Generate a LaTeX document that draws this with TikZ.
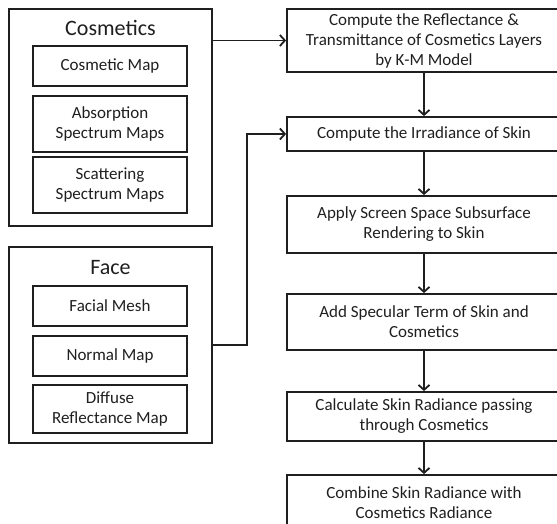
\documentclass[tikz,border=0pt]{standalone}
\usepackage{fontspec}
\setmainfont{Carlito}
\usetikzlibrary{arrows.meta, positioning, calc}

\begin{document}
\begin{tikzpicture}[x=1pt, y=1pt, line width=1.8pt, color=black!88,
    every node/.style={font=\fontsize{17}{20}\selectfont, inner sep=2pt},
    group/.style={draw, minimum width=203pt},
    title/.style={font=\fontsize{22}{24}\selectfont},
    mapbox/.style={draw, minimum width=154pt, align=center},
    stepbox/.style={draw, minimum width=274pt, align=center},
    arr/.style={-{Straight Barb[length=5pt, width=11pt]}}]

    \path[use as bounding box, clip] (0,0) rectangle (557,-523);

    % Cosmetics input group
    \node[group, minimum height=217pt] (cosm) at (110.5,-117.5) {};
    \node[title] (cosmtitle) at (110.5,-28) {Cosmetics};
    \node[mapbox, minimum height=40pt] (cosmap) at (110,-66) {Cosmetic Map};
    \node[mapbox, minimum height=56pt] (absmap) at (110,-124) {Absorption\\Spectrum Maps};
    \node[mapbox, minimum height=56pt] (scatmap) at (110,-185) {Scattering\\Spectrum Maps};

    % Face input group
    \node[group, minimum height=196pt] (face) at (110.5,-345) {};
    \node[title] (facetitle) at (110.5,-268) {Face};
    \node[mapbox, minimum height=40pt] (mesh) at (110,-306) {Facial Mesh};
    \node[mapbox, minimum height=40pt] (normal) at (110,-356) {Normal Map};
    \node[mapbox, minimum height=48pt] (diffuse) at (110,-409) {Diffuse\\Reflectance Map};

    % Rendering steps
    \node[stepbox, minimum height=63pt] (kmodel) at (424,-40.5) {Compute the Reflectance \&\\Transmittance of Cosmetics Layers\\by K-M Model};
    \node[stepbox, minimum height=34pt] (irrad) at (424,-134) {Compute the Irradiance of Skin};
    \node[stepbox, minimum height=57pt] (sss) at (424,-224.5) {Apply Screen Space Subsurface\\Rendering to Skin};
    \node[stepbox, minimum height=56pt] (spec) at (424,-322) {Add Specular Term of Skin and\\Cosmetics};
    \node[stepbox, minimum height=49pt] (pass) at (424,-416.5) {Calculate Skin Radiance passing\\through Cosmetics};
    \node[stepbox, minimum height=56pt] (combine) at (424,-503) {Combine Skin Radiance with\\Cosmetics Radiance};

    % Connectors
    \draw[arr] (cosm.east |- kmodel.west) -- (kmodel.west);
    \draw[arr] (face.east) -- ++(34,0) |- (irrad.west);
    \foreach \a/\b in {kmodel/irrad, irrad/sss, sss/spec, spec/pass, pass/combine}
        \draw[arr] (\a) -- (\b);
\end{tikzpicture}
\end{document}
